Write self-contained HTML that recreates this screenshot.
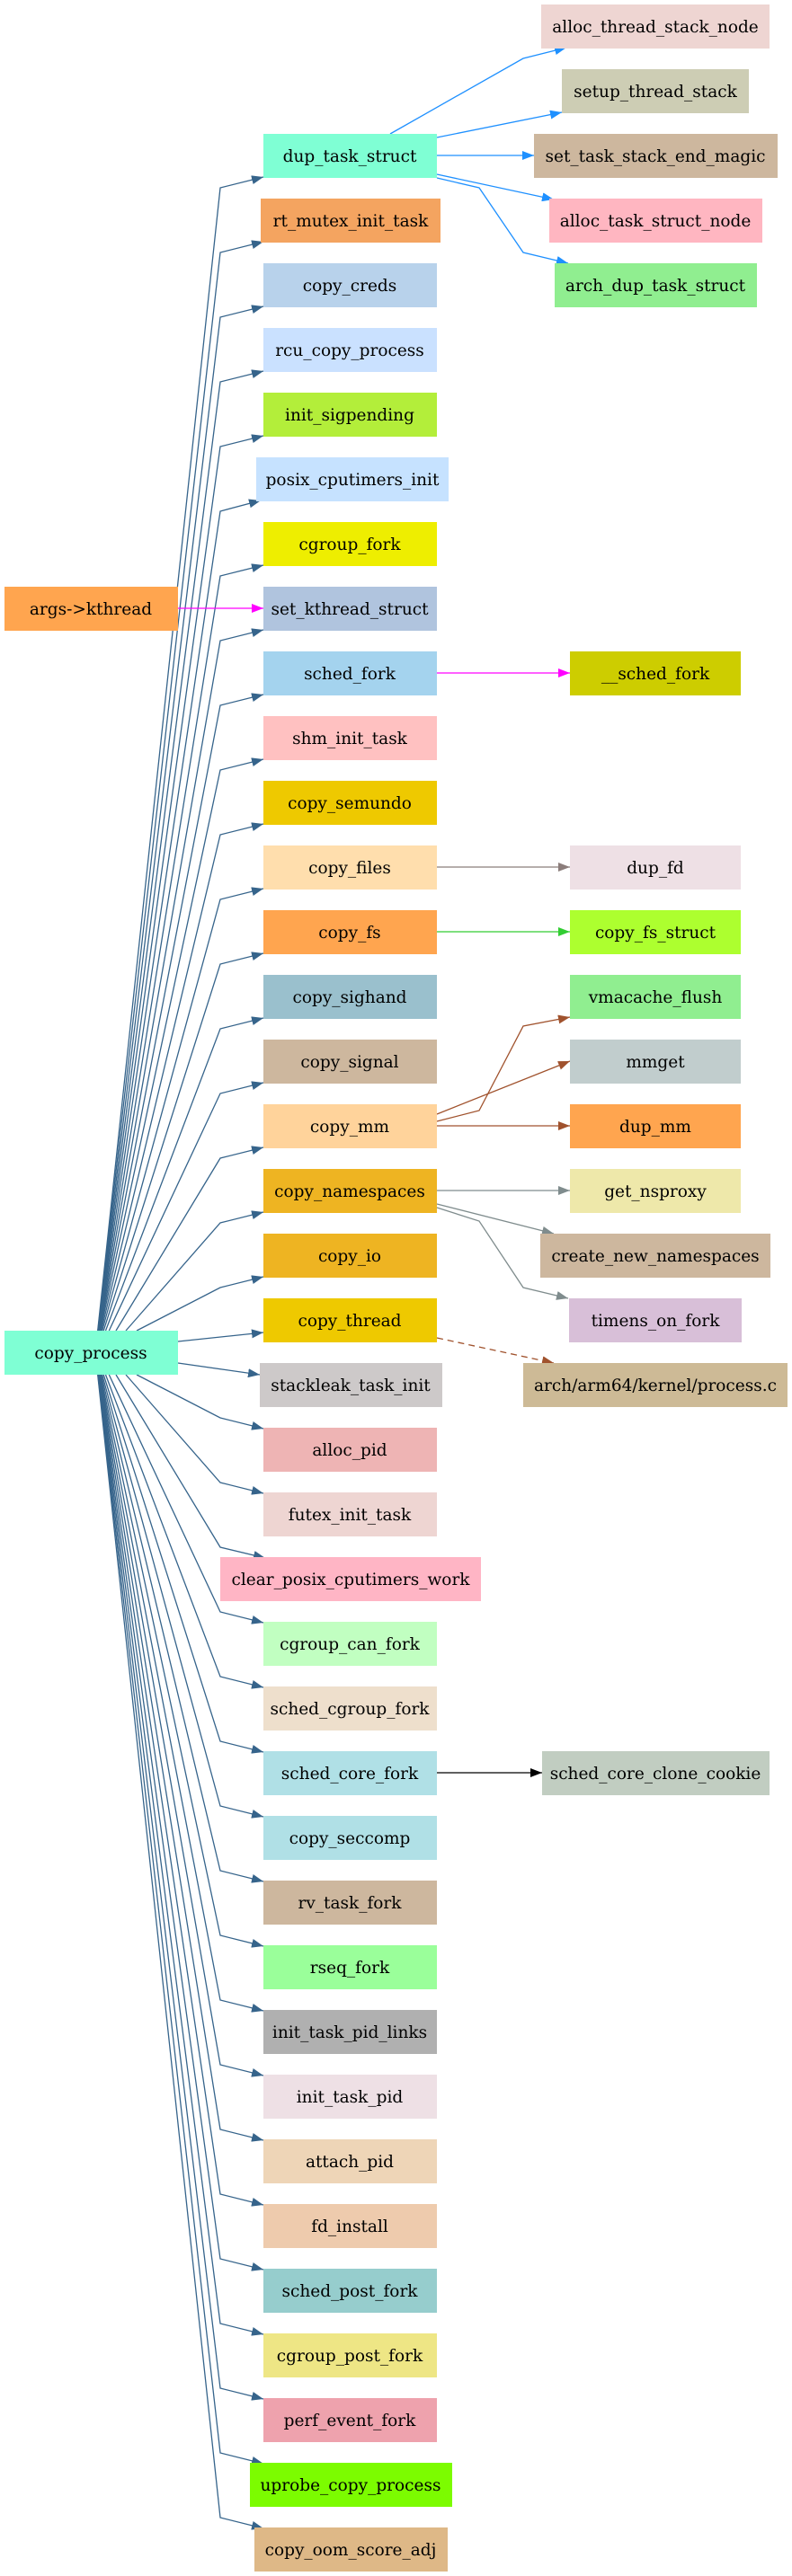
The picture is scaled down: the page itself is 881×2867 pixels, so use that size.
<!DOCTYPE html>
<html><head><meta charset="utf-8"><style>
html,body{margin:0;padding:0;background:#fff;}
svg{display:block;}
text{font-family:"DejaVu Serif","Liberation Serif",serif;font-size:18.5px;fill:#000;text-anchor:middle;}
.e{fill:none;stroke:#36648b;stroke-width:1.3;marker-end:url(#a);}
</style></head><body>
<svg width="881" height="2867" viewBox="0 0 881 2867" xmlns="http://www.w3.org/2000/svg">
<defs>
<marker id="a" markerUnits="userSpaceOnUse" markerWidth="14" markerHeight="10" refX="13" refY="5" orient="auto"><path d="M0,0 L13,5 L0,10 z" fill="#36648b"/></marker>
<marker id="b" markerUnits="userSpaceOnUse" markerWidth="14" markerHeight="10" refX="13" refY="5" orient="auto"><path d="M0,0 L13,5 L0,10 z" fill="#1e90ff"/></marker>
<marker id="m" markerUnits="userSpaceOnUse" markerWidth="14" markerHeight="10" refX="13" refY="5" orient="auto"><path d="M0,0 L13,5 L0,10 z" fill="#ff00ff"/></marker>
<marker id="g" markerUnits="userSpaceOnUse" markerWidth="14" markerHeight="10" refX="13" refY="5" orient="auto"><path d="M0,0 L13,5 L0,10 z" fill="#8b7d7b"/></marker>
<marker id="l" markerUnits="userSpaceOnUse" markerWidth="14" markerHeight="10" refX="13" refY="5" orient="auto"><path d="M0,0 L13,5 L0,10 z" fill="#32cd32"/></marker>
<marker id="s" markerUnits="userSpaceOnUse" markerWidth="14" markerHeight="10" refX="13" refY="5" orient="auto"><path d="M0,0 L13,5 L0,10 z" fill="#a0522d"/></marker>
<marker id="y" markerUnits="userSpaceOnUse" markerWidth="14" markerHeight="10" refX="13" refY="5" orient="auto"><path d="M0,0 L13,5 L0,10 z" fill="#7f8c8d"/></marker>
<marker id="k" markerUnits="userSpaceOnUse" markerWidth="14" markerHeight="10" refX="13" refY="5" orient="auto"><path d="M0,0 L13,5 L0,10 z" fill="#000"/></marker>
</defs>

<path class="e" d="M108.7,1481 L245,209 L293,197"/>
<path class="e" d="M108.9,1481 L245,281 L293,269"/>
<path class="e" d="M109.1,1481 L245,353 L293,341"/>
<path class="e" d="M109.3,1481 L245,425 L293,413"/>
<path class="e" d="M109.5,1481 L245,497 L293,485"/>
<path class="e" d="M109.8,1481 L245,569 L290,557"/>
<path class="e" d="M110.2,1481 L245,641 L293,629"/>
<path class="e" d="M110.6,1481 L245,713 L293,701"/>
<path class="e" d="M111.1,1481 L245,785 L293,773"/>
<path class="e" d="M111.7,1481 L245,857 L293,845"/>
<path class="e" d="M112.6,1481 L245,929 L293,917"/>
<path class="e" d="M113.7,1481 L245,1001 L293,989"/>
<path class="e" d="M115.2,1481 L245,1073 L293,1061"/>
<path class="e" d="M117.5,1481 L245,1145 L293,1133"/>
<path class="e" d="M121.3,1481 L245,1217 L293,1205"/>
<path class="e" d="M129,1481 L245,1289 L293,1277"/>
<path class="e" d="M140,1481 L245,1361 L293,1349"/>
<path class="e" d="M152,1481 L245,1433 L293,1421"/>
<path class="e" d="M198,1493 L293,1483"/>
<path class="e" d="M198,1517 L289,1530"/>
<path class="e" d="M152,1530 L245,1578 L293,1590"/>
<path class="e" d="M140,1530 L245,1650 L293,1662"/>
<path class="e" d="M129,1530 L245,1722 L295,1734"/>
<path class="e" d="M121.3,1530 L245,1794 L293,1806"/>
<path class="e" d="M117.5,1530 L245,1866 L293,1878"/>
<path class="e" d="M115.2,1530 L245,1938 L293,1950"/>
<path class="e" d="M113.7,1530 L245,2010 L293,2022"/>
<path class="e" d="M112.6,1530 L245,2082 L293,2094"/>
<path class="e" d="M111.7,1530 L245,2154 L293,2166"/>
<path class="e" d="M111.1,1530 L245,2226 L293,2238"/>
<path class="e" d="M110.6,1530 L245,2298 L293,2310"/>
<path class="e" d="M110.2,1530 L245,2370 L293,2382"/>
<path class="e" d="M109.8,1530 L245,2442 L293,2454"/>
<path class="e" d="M109.5,1530 L245,2514 L293,2526"/>
<path class="e" d="M109.3,1530 L245,2586 L293,2598"/>
<path class="e" d="M109.1,1530 L245,2658 L293,2670"/>
<path class="e" d="M108.9,1530 L245,2730 L293,2742"/>
<path class="e" d="M108.7,1530 L245,2802 L293,2814"/>

<g fill="none" stroke-width="1.3">
<path stroke="#1e90ff" marker-end="url(#b)" d="M434,149 L582,65 L630,53"/>
<path stroke="#1e90ff" marker-end="url(#b)" d="M486,153 L625,125"/>
<path stroke="#1e90ff" marker-end="url(#b)" d="M486,173 L594,173"/>
<path stroke="#1e90ff" marker-end="url(#b)" d="M486,194 L616,222"/>
<path stroke="#1e90ff" marker-end="url(#b)" d="M486,198 L533,209 L582,281 L632,293"/>
<path stroke="#ff00ff" marker-end="url(#m)" d="M198,677 L293,677"/>
<path stroke="#ff00ff" marker-end="url(#m)" d="M486,749 L634,749"/>
<path stroke="#8b7d7b" marker-end="url(#g)" d="M486,965 L634,965"/>
<path stroke="#32cd32" marker-end="url(#l)" d="M486,1037 L634,1037"/>
<path stroke="#a0522d" marker-end="url(#s)" d="M486,1248 L533,1236 L582,1142 L634,1132"/>
<path stroke="#a0522d" marker-end="url(#s)" d="M486,1240 L634,1181"/>
<path stroke="#a0522d" marker-end="url(#s)" d="M486,1253 L634,1253"/>
<path stroke="#7f8c8d" marker-end="url(#y)" d="M486,1325 L634,1325"/>
<path stroke="#7f8c8d" marker-end="url(#y)" d="M486,1340 L616,1373"/>
<path stroke="#7f8c8d" marker-end="url(#y)" d="M486,1344 L533,1359 L582,1433 L632,1445"/>
<path stroke="#a0522d" stroke-dasharray="7,5" marker-end="url(#s)" d="M486,1489 L616,1517"/>
<path stroke="#000" marker-end="url(#k)" d="M486,1973 L603,1973"/>
</g>

<rect x="5" y="1481" width="193" height="49" fill="#7fffd4"/><text x="101" y="1512">copy_process</text>
<rect x="5" y="653" width="193" height="49" fill="#ffa54f"/><text x="101" y="684">args-&gt;kthread</text>

<rect x="293" y="149" width="193" height="49" fill="#7fffd4"/><text x="389" y="180">dup_task_struct</text>
<rect x="290" y="221" width="200" height="49" fill="#f4a460"/><text x="390" y="252">rt_mutex_init_task</text>
<rect x="293" y="293" width="193" height="49" fill="#b8d2eb"/><text x="389" y="324">copy_creds</text>
<rect x="293" y="365" width="193" height="49" fill="#cae1ff"/><text x="389" y="396">rcu_copy_process</text>
<rect x="293" y="437" width="193" height="49" fill="#b3ee3a"/><text x="389" y="468">init_sigpending</text>
<rect x="285" y="509" width="214" height="49" fill="#c6e2ff"/><text x="392" y="540">posix_cputimers_init</text>
<rect x="293" y="581" width="193" height="49" fill="#eeee00"/><text x="389" y="612">cgroup_fork</text>
<rect x="293" y="653" width="193" height="49" fill="#b0c4de"/><text x="389" y="684">set_kthread_struct</text>
<rect x="293" y="725" width="193" height="49" fill="#a4d3ee"/><text x="389" y="756">sched_fork</text>
<rect x="293" y="797" width="193" height="49" fill="#ffc1c1"/><text x="389" y="828">shm_init_task</text>
<rect x="293" y="869" width="193" height="49" fill="#eec900"/><text x="389" y="900">copy_semundo</text>
<rect x="293" y="941" width="193" height="49" fill="#ffdead"/><text x="389" y="972">copy_files</text>
<rect x="293" y="1013" width="193" height="49" fill="#ffa54f"/><text x="389" y="1044">copy_fs</text>
<rect x="293" y="1085" width="193" height="49" fill="#9ac0cd"/><text x="389" y="1116">copy_sighand</text>
<rect x="293" y="1157" width="193" height="49" fill="#cdb79e"/><text x="389" y="1188">copy_signal</text>
<rect x="293" y="1229" width="193" height="49" fill="#ffd39b"/><text x="389" y="1260">copy_mm</text>
<rect x="293" y="1301" width="193" height="49" fill="#eeb422"/><text x="389" y="1332">copy_namespaces</text>
<rect x="293" y="1373" width="193" height="49" fill="#eeb422"/><text x="389" y="1404">copy_io</text>
<rect x="293" y="1445" width="193" height="49" fill="#eec900"/><text x="389" y="1476">copy_thread</text>
<rect x="289" y="1517" width="203" height="49" fill="#cdc9c9"/><text x="390" y="1548">stackleak_task_init</text>
<rect x="293" y="1589" width="193" height="49" fill="#eeb4b4"/><text x="389" y="1620">alloc_pid</text>
<rect x="293" y="1661" width="193" height="49" fill="#eed5d2"/><text x="389" y="1692">futex_init_task</text>
<rect x="245" y="1733" width="290" height="49" fill="#ffb5c5"/><text x="390" y="1764">clear_posix_cputimers_work</text>
<rect x="293" y="1805" width="193" height="49" fill="#c1ffc1"/><text x="389" y="1836">cgroup_can_fork</text>
<rect x="293" y="1877" width="193" height="49" fill="#eedfcc"/><text x="389" y="1908">sched_cgroup_fork</text>
<rect x="293" y="1949" width="193" height="49" fill="#b0e0e6"/><text x="389" y="1980">sched_core_fork</text>
<rect x="293" y="2021" width="193" height="49" fill="#b0e0e6"/><text x="389" y="2052">copy_seccomp</text>
<rect x="293" y="2093" width="193" height="49" fill="#cdb79e"/><text x="389" y="2124">rv_task_fork</text>
<rect x="293" y="2165" width="193" height="49" fill="#9aff9a"/><text x="389" y="2196">rseq_fork</text>
<rect x="293" y="2237" width="193" height="49" fill="#b0b0b0"/><text x="389" y="2268">init_task_pid_links</text>
<rect x="293" y="2309" width="193" height="49" fill="#eee0e5"/><text x="389" y="2340">init_task_pid</text>
<rect x="293" y="2381" width="193" height="49" fill="#eed5b7"/><text x="389" y="2412">attach_pid</text>
<rect x="293" y="2453" width="193" height="49" fill="#eecbad"/><text x="389" y="2484">fd_install</text>
<rect x="293" y="2525" width="193" height="49" fill="#96cdcd"/><text x="389" y="2556">sched_post_fork</text>
<rect x="293" y="2597" width="193" height="49" fill="#eee685"/><text x="389" y="2628">cgroup_post_fork</text>
<rect x="293" y="2669" width="193" height="49" fill="#eea2ad"/><text x="389" y="2700">perf_event_fork</text>
<rect x="278" y="2741" width="225" height="49" fill="#7cfc00"/><text x="390" y="2772">uprobe_copy_process</text>
<rect x="283" y="2813" width="215" height="49" fill="#deb887"/><text x="390" y="2844">copy_oom_score_adj</text>

<rect x="602" y="5" width="254" height="49" fill="#eed5d2"/><text x="729" y="36">alloc_thread_stack_node</text>
<rect x="625" y="77" width="208" height="49" fill="#cdcdb4"/><text x="729" y="108">setup_thread_stack</text>
<rect x="594" y="149" width="271" height="49" fill="#cdb79e"/><text x="729" y="180">set_task_stack_end_magic</text>
<rect x="611" y="221" width="237" height="49" fill="#ffb6c1"/><text x="729" y="252">alloc_task_struct_node</text>
<rect x="617" y="293" width="225" height="49" fill="#90ee90"/><text x="729" y="324">arch_dup_task_struct</text>
<rect x="634" y="725" width="190" height="49" fill="#cdcd00"/><text x="729" y="756">__sched_fork</text>
<rect x="634" y="941" width="190" height="49" fill="#eee0e5"/><text x="729" y="972">dup_fd</text>
<rect x="634" y="1013" width="190" height="49" fill="#adff2f"/><text x="729" y="1044">copy_fs_struct</text>
<rect x="634" y="1085" width="190" height="49" fill="#90ee90"/><text x="729" y="1116">vmacache_flush</text>
<rect x="634" y="1157" width="190" height="49" fill="#c1cdcd"/><text x="729" y="1188">mmget</text>
<rect x="634" y="1229" width="190" height="49" fill="#ffa54f"/><text x="729" y="1260">dup_mm</text>
<rect x="634" y="1301" width="190" height="49" fill="#eee8aa"/><text x="729" y="1332">get_nsproxy</text>
<rect x="601" y="1373" width="256" height="49" fill="#cdb79e"/><text x="729" y="1404">create_new_namespaces</text>
<rect x="633" y="1445" width="192" height="49" fill="#d8bfd8"/><text x="729" y="1476">timens_on_fork</text>
<rect x="582" y="1517" width="294" height="49" fill="#cdba96"/><text x="729" y="1548">arch/arm64/kernel/process.c</text>
<rect x="603" y="1949" width="253" height="49" fill="#c1cdc1"/><text x="729" y="1980">sched_core_clone_cookie</text>
</svg>
</body></html>
